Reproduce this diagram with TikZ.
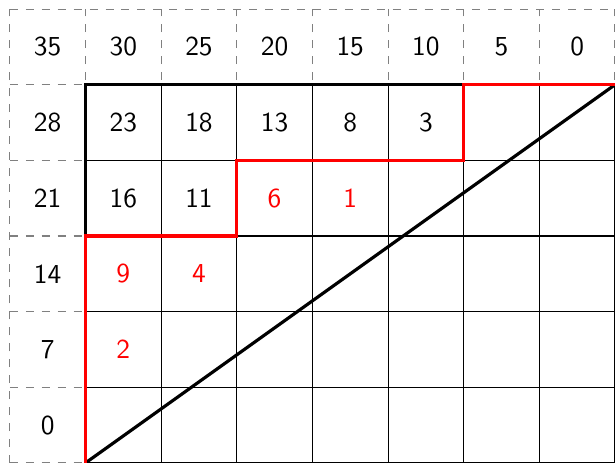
\documentclass[tikz,border=0pt]{standalone}
\begin{document}
\begin{tikzpicture}[x=1cm,y=1cm,
  lbl/.style={font=\sffamily\fontsize{10.3}{12}\selectfont, inner sep=0pt},
  hl/.style={lbl, text=red},
  dgrid/.style={gray, dashed, line width=0.4pt},
  sgrid/.style={black, line width=0.4pt},
  thickblack/.style={black, line width=1.2pt},
  thickred/.style={red, line width=1.2pt}]
\useasboundingbox (-1.13,0) rectangle (7,6.12);
% dashed header row and column
\draw[dgrid] (-1,0) grid (7,6);
\fill[white] (0,0) rectangle (7,5);
% solid grid
\draw[sgrid] (0,0) grid (7,5);
% coordinates
\coordinate (o) at (0,0);
\coordinate (tr) at (7,5);
\coordinate (p1) at (0,3);
\coordinate (p2) at (2,3);
\coordinate (p3) at (2,4);
\coordinate (p4) at (5,4);
\coordinate (p5) at (5,5);
\coordinate (tl) at (0,5);
% black boundary
\draw[thickblack] (p1) -- (tl) -- (p5);
% diagonal
\draw[thickblack] (o) -- (tr);
% red staircase
\draw[thickred] (o) -- (p1) -- (p2) -- (p3) -- (p4) -- (p5) -- (tr);
% header numbers
\foreach \v [count=\i from -1] in {35,30,25,20,15,10,5,0}
  \node[lbl] (h\i) at (\i+0.5,5.5) {\v};
\foreach \v [count=\j from 0] in {0,7,14,21,28}
  \node[lbl] (l\j) at (-0.5,\j+0.5) {\v};
% row 4
\node[lbl] (a23) at (0.5,4.5) {23};
\node[lbl] (a18) at (1.5,4.5) {18};
\node[lbl] (a13) at (2.5,4.5) {13};
\node[lbl] (a8) at (3.5,4.5) {8};
\node[lbl] (a3) at (4.5,4.5) {3};
% row 3
\node[lbl] (a16) at (0.5,3.5) {16};
\node[lbl] (a11) at (1.5,3.5) {11};
\node[hl] (a6) at (2.5,3.5) {6};
\node[hl] (a1) at (3.5,3.5) {1};
% row 2
\node[hl] (a9) at (0.5,2.5) {9};
\node[hl] (a4) at (1.5,2.5) {4};
% row 1
\node[hl] (a2) at (0.5,1.5) {2};
\end{tikzpicture}
\end{document}
